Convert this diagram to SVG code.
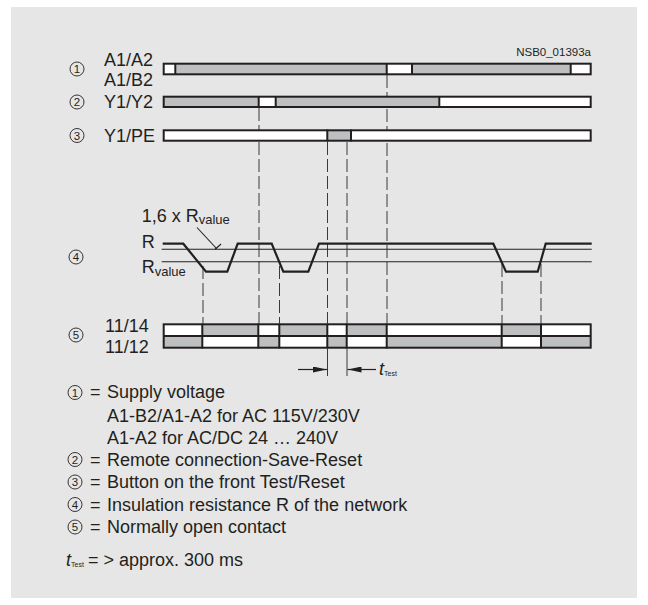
<svg xmlns="http://www.w3.org/2000/svg" width="648" height="605" viewBox="0 0 648 605">
<defs>
<style>
.t{font-family:"Liberation Sans",Arial,sans-serif;font-size:18px;fill:#231f20}
.sub{font-family:"Liberation Sans",Arial,sans-serif;font-size:13px;fill:#231f20}
.tiny{font-family:"Liberation Sans",Arial,sans-serif;font-size:7px;fill:#231f20}
.it{font-family:"Liberation Sans",Arial,sans-serif;font-size:18px;font-style:italic;fill:#231f20}
.num{font-family:"Liberation Sans",Arial,sans-serif;font-size:11.5px;fill:#231f20;text-anchor:middle}
.circ{fill:none;stroke:#231f20;stroke-width:0.9}
.g{fill:#bebfc1}
.w{fill:#ffffff}
.bar{fill:none;stroke:#231f20;stroke-width:2}
.div{stroke:#231f20;stroke-width:2}
.dash{stroke:#3a3a3a;stroke-width:1;stroke-dasharray:13 4;fill:none}
.solid{stroke:#3a3a3a;stroke-width:1;fill:none}
.thin{stroke:#231f20;stroke-width:1.1;fill:none}
.wave{stroke:#231f20;stroke-width:2.2;fill:none;stroke-linejoin:miter}
</style>
<marker id="ah" viewBox="0 0 14 6" refX="14" refY="3" markerWidth="14" markerHeight="6" markerUnits="userSpaceOnUse" orient="auto">
<path d="M0,0 L14,3 L0,6 Z" fill="#231f20"/>
</marker>
</defs>
<rect x="11" y="7" width="626" height="591" fill="#e6e6e6"/>

<g id="connectors">
<line class="dash" x1="259" y1="108" x2="259" y2="323"/>
<line class="dash" x1="387" y1="75" x2="387" y2="323"/>
<line class="dash" x1="327.5" y1="142" x2="327.5" y2="323"/>
<line class="dash" x1="347" y1="142" x2="347" y2="323"/>
<line class="solid" x1="327.5" y1="349" x2="327.5" y2="376"/>
<line class="solid" x1="347" y1="349" x2="347" y2="376"/>
<line class="dash" x1="203" y1="266" x2="203" y2="323"/>
<line class="dash" x1="279.5" y1="266" x2="279.5" y2="323"/>
<line class="dash" x1="502" y1="264" x2="502" y2="323"/>
<line class="dash" x1="541" y1="264" x2="541" y2="323"/>
<line stroke="#231f20" stroke-width="1.2" x1="298" y1="369.5" x2="327" y2="369.5" marker-end="url(#ah)"/>
<line stroke="#231f20" stroke-width="1.2" x1="376" y1="369.5" x2="347.5" y2="369.5" marker-end="url(#ah)"/>
</g>

<g id="ref">
<text class="t" x="591" y="56" style="font-size:11.5px" text-anchor="end">NSB0_01393a</text>
</g>

<g id="row1">
<circle class="circ" cx="77" cy="69" r="7"/>
<text class="num" x="77" y="73">1</text>
<text class="t" x="104" y="66">A1/A2</text>
<text class="t" x="104" y="86">A1/B2</text>
<rect class="w" x="163.7" y="63.7" width="427" height="10.6"/>
<rect class="g" x="175.3" y="63.7" width="211.4" height="10.6"/>
<rect class="g" x="412" y="63.7" width="158.7" height="10.6"/>
<line class="div" x1="175.3" y1="63" x2="175.3" y2="75"/>
<line class="div" x1="386.7" y1="63" x2="386.7" y2="75"/>
<line class="div" x1="412" y1="63" x2="412" y2="75"/>
<line class="div" x1="570.7" y1="63" x2="570.7" y2="75"/>
<rect class="bar" x="163.7" y="63.7" width="427" height="10.6"/>
</g>

<g id="row2">
<circle class="circ" cx="77" cy="102" r="7"/>
<text class="num" x="77" y="106">2</text>
<text class="t" x="104" y="108">Y1/Y2</text>
<rect class="w" x="163.7" y="96.7" width="427" height="10.3"/>
<rect class="g" x="163.7" y="96.7" width="95" height="10.3"/>
<rect class="g" x="275.7" y="96.7" width="163.6" height="10.3"/>
<line class="div" x1="258.7" y1="96" x2="258.7" y2="108"/>
<line class="div" x1="275.7" y1="96" x2="275.7" y2="108"/>
<line class="div" x1="439.3" y1="96" x2="439.3" y2="108"/>
<rect class="bar" x="163.7" y="96.7" width="427" height="10.3"/>
</g>

<g id="row3">
<circle class="circ" cx="77" cy="135.5" r="7"/>
<text class="num" x="77" y="139.5">3</text>
<text class="t" x="104" y="141.7">Y1/PE</text>
<rect class="w" x="163.7" y="130.3" width="427" height="10.4"/>
<rect class="g" x="327.3" y="130.3" width="23.7" height="10.4"/>
<line class="div" x1="327.3" y1="129.5" x2="327.3" y2="141.5"/>
<line class="div" x1="351" y1="129.5" x2="351" y2="141.5"/>
<rect class="bar" x="163.7" y="130.3" width="427" height="10.4"/>
</g>

<g id="row4">
<circle class="circ" cx="76" cy="257" r="7"/>
<text class="num" x="76" y="261">4</text>
<text class="t" x="141.7" y="221.7">1,6 x R<tspan class="sub" dy="2.5">value</tspan></text>
<text class="t" x="141.7" y="248">R</text>
<text class="t" x="141.7" y="273">R<tspan class="sub" dy="3">value</tspan></text>
<line class="thin" x1="197" y1="227.5" x2="216.5" y2="248.5"/>
<line class="thin" x1="215" y1="249.5" x2="221" y2="244"/>
<line class="thin" x1="161.7" y1="249.3" x2="591.7" y2="249.3"/>
<line class="thin" x1="161.7" y1="261.7" x2="591.7" y2="261.7"/>
<path class="wave" d="M162.7,243.7 L183.3,243.7 L206,271.7 L227.3,271.7 L237.7,243.7 L271.7,243.7 L283.3,271.7 L308.3,271.7 L319,243.7 L493.3,243.7 L506,271.7 L537.7,271.7 L545.7,243.7 L591.7,243.7"/>
</g>

<g id="row5">
<circle class="circ" cx="76" cy="335" r="7"/>
<text class="num" x="76" y="339">5</text>
<text class="t" x="105" y="332">11/14</text>
<text class="t" x="105" y="353">11/12</text>
<rect class="w" x="163.7" y="324.3" width="427" height="23.4"/>
<rect class="g" x="202.3" y="324.3" width="56" height="11.7"/>
<rect class="g" x="279.3" y="324.3" width="48" height="11.7"/>
<rect class="g" x="346.7" y="324.3" width="40" height="11.7"/>
<rect class="g" x="501.7" y="324.3" width="39.3" height="11.7"/>
<rect class="g" x="163.7" y="336" width="38.6" height="11.7"/>
<rect class="g" x="258.3" y="336" width="21" height="11.7"/>
<rect class="g" x="327.3" y="336" width="19.4" height="11.7"/>
<rect class="g" x="386.7" y="336" width="115" height="11.7"/>
<rect class="g" x="541" y="336" width="49.7" height="11.7"/>
<line class="div" x1="163.7" y1="336" x2="590.7" y2="336"/>
<line class="div" x1="202.3" y1="323.5" x2="202.3" y2="348.5"/>
<line class="div" x1="258.3" y1="323.5" x2="258.3" y2="348.5"/>
<line class="div" x1="279.3" y1="323.5" x2="279.3" y2="348.5"/>
<line class="div" x1="327.3" y1="323.5" x2="327.3" y2="348.5"/>
<line class="div" x1="346.7" y1="323.5" x2="346.7" y2="348.5"/>
<line class="div" x1="386.7" y1="323.5" x2="386.7" y2="348.5"/>
<line class="div" x1="501.7" y1="323.5" x2="501.7" y2="348.5"/>
<line class="div" x1="541" y1="323.5" x2="541" y2="348.5"/>
<rect class="bar" x="163.7" y="324.3" width="427" height="23.4"/>
<text class="it" x="379" y="375.3">t<tspan class="tiny" dx="0" dy="0.5" style="font-style:normal">Test</tspan></text>
</g>

<g id="legend">
<circle class="circ" cx="75" cy="392.5" r="7"/>
<text class="num" x="75" y="396.5">1</text>
<text class="t" x="90" y="398.3">=</text>
<text class="t" x="107" y="398.3">Supply voltage</text>
<text class="t" x="107" y="421.7">A1-B2/A1-A2 for AC 115V/230V</text>
<text class="t" x="107" y="444">A1-A2 for AC/DC 24 … 240V</text>
<circle class="circ" cx="75" cy="459.5" r="7"/>
<text class="num" x="75" y="463.5">2</text>
<text class="t" x="90" y="465.7">=</text>
<text class="t" x="107" y="465.7">Remote connection-Save-Reset</text>
<circle class="circ" cx="75" cy="482" r="7"/>
<text class="num" x="75" y="486">3</text>
<text class="t" x="90" y="488.3">=</text>
<text class="t" x="107" y="488.3">Button on the front Test/Reset</text>
<circle class="circ" cx="75" cy="504.5" r="7"/>
<text class="num" x="75" y="508.5">4</text>
<text class="t" x="90" y="510.7">=</text>
<text class="t" x="107" y="510.7">Insulation resistance R of the network</text>
<circle class="circ" cx="75" cy="527" r="7"/>
<text class="num" x="75" y="531">5</text>
<text class="t" x="90" y="533.3">=</text>
<text class="t" x="107" y="533.3">Normally open contact</text>
<text class="it" x="66" y="566">t<tspan class="tiny" dy="0.5" style="font-style:normal">Test</tspan></text>
<text class="t" x="88" y="566">= &gt; approx. 300 ms</text>
</g>
</svg>
